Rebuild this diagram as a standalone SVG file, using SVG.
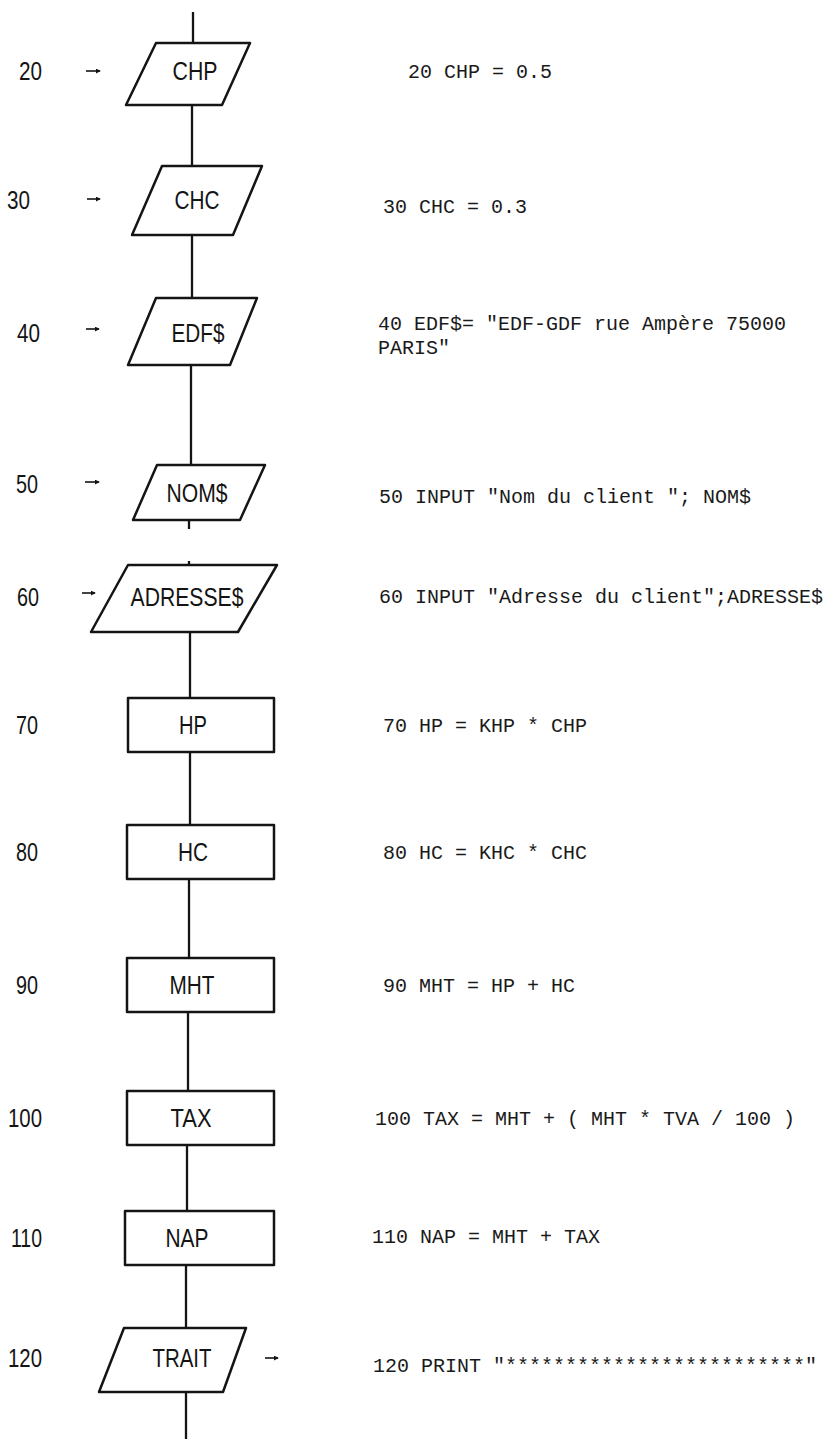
<svg xmlns="http://www.w3.org/2000/svg" width="829" height="1439" viewBox="0 0 829 1439">
<style>
.shape{fill:none;stroke:#141414;stroke-width:2.5;stroke-linejoin:round}
.conn{stroke:#141414;stroke-width:2.3;fill:none}
.lbl{font-family:"Liberation Sans",Arial,sans-serif;font-size:25px;fill:#141414;text-anchor:middle}
.num{font-family:"Liberation Sans",Arial,sans-serif;font-size:25px;fill:#141414}
.code{font-family:"Liberation Mono","Courier New",monospace;font-size:20px;fill:#1a1a1a}
.arr{stroke:#141414;stroke-width:1.6;fill:none}
</style>
<defs>
<marker id="ah" viewBox="0 0 6 6" refX="5" refY="3" markerWidth="5" markerHeight="5" orient="auto" markerUnits="userSpaceOnUse">
<path d="M0,0 L6,3 L0,6 z" fill="#141414"/>
</marker>
</defs>
<rect width="829" height="1439" fill="#ffffff"/>
<g id="connectors">
<line class="conn" x1="193" y1="12" x2="193" y2="43"/>
<line class="conn" x1="192" y1="105" x2="192" y2="166"/>
<line class="conn" x1="192" y1="235" x2="192" y2="298"/>
<line class="conn" x1="191" y1="365" x2="191" y2="465"/>
<line class="conn" x1="189" y1="520" x2="189" y2="529"/>
<line class="conn" x1="189" y1="561" x2="189" y2="565"/>
<line class="conn" x1="190" y1="632" x2="190" y2="698"/>
<line class="conn" x1="190" y1="752" x2="190" y2="825"/>
<line class="conn" x1="189" y1="879" x2="189" y2="958"/>
<line class="conn" x1="188" y1="1012" x2="188" y2="1091"/>
<line class="conn" x1="187" y1="1145" x2="187" y2="1211"/>
<line class="conn" x1="186" y1="1265" x2="186" y2="1328"/>
<line class="conn" x1="186" y1="1392" x2="186" y2="1439"/>
</g>
<g id="arrows">
<line class="arr" x1="86" y1="71" x2="100" y2="71" marker-end="url(#ah)"/>
<line class="arr" x1="87" y1="199" x2="100" y2="199" marker-end="url(#ah)"/>
<line class="arr" x1="86" y1="329" x2="99" y2="329" marker-end="url(#ah)"/>
<line class="arr" x1="85" y1="482" x2="99" y2="482" marker-end="url(#ah)"/>
<line class="arr" x1="82" y1="593" x2="95" y2="593" marker-end="url(#ah)"/>
<line class="arr" x1="265" y1="1358" x2="278" y2="1358" marker-end="url(#ah)"/>
</g>
<g id="n20">
<text class="num" x="19" y="80" textLength="23" lengthAdjust="spacingAndGlyphs">20</text>
<polygon class="shape" points="156,43 250,43 222,105 126,105"/>
<text class="lbl" x="195" y="80" textLength="45" lengthAdjust="spacingAndGlyphs">CHP</text>
<text class="code" x="408" y="78">20 CHP = 0.5</text>
</g>
<g id="n30">
<text class="num" x="7" y="209" textLength="23" lengthAdjust="spacingAndGlyphs">30</text>
<polygon class="shape" points="162,166 262,166 233,235 132,235"/>
<text class="lbl" x="197" y="209" textLength="45" lengthAdjust="spacingAndGlyphs">CHC</text>
<text class="code" x="383" y="213">30 CHC = 0.3</text>
</g>
<g id="n40">
<text class="num" x="17" y="342" textLength="23" lengthAdjust="spacingAndGlyphs">40</text>
<polygon class="shape" points="156,298 257,298 230,365 128,365"/>
<text class="lbl" x="198" y="342" textLength="53" lengthAdjust="spacingAndGlyphs">EDF$</text>
<text class="code" x="378" y="330">40 EDF$= "EDF-GDF rue Ampère 75000</text>
<text class="code" x="378" y="354">PARIS"</text>
</g>
<g id="n50">
<text class="num" x="16" y="493" textLength="22" lengthAdjust="spacingAndGlyphs">50</text>
<polygon class="shape" points="157,465 265,465 240,520 133,520"/>
<text class="lbl" x="197" y="502" textLength="61" lengthAdjust="spacingAndGlyphs">NOM$</text>
<text class="code" x="379" y="503">50 INPUT "Nom du client "; NOM$</text>
</g>
<g id="n60">
<text class="num" x="17" y="606" textLength="22" lengthAdjust="spacingAndGlyphs">60</text>
<polygon class="shape" points="128,565 277,565 238,632 91,632"/>
<text class="lbl" x="187" y="606" textLength="113" lengthAdjust="spacingAndGlyphs">ADRESSE$</text>
<text class="code" x="379" y="603">60 INPUT "Adresse du client";ADRESSE$</text>
</g>
<g id="n70">
<text class="num" x="16" y="734" textLength="22" lengthAdjust="spacingAndGlyphs">70</text>
<rect class="shape" x="128" y="698" width="146" height="54"/>
<text class="lbl" x="193" y="734" textLength="28" lengthAdjust="spacingAndGlyphs">HP</text>
<text class="code" x="383" y="732">70 HP = KHP * CHP</text>
</g>
<g id="n80">
<text class="num" x="16" y="861" textLength="22" lengthAdjust="spacingAndGlyphs">80</text>
<rect class="shape" x="127" y="825" width="147" height="54"/>
<text class="lbl" x="193" y="861" textLength="30" lengthAdjust="spacingAndGlyphs">HC</text>
<text class="code" x="383" y="859">80 HC = KHC * CHC</text>
</g>
<g id="n90">
<text class="num" x="16" y="994" textLength="22" lengthAdjust="spacingAndGlyphs">90</text>
<rect class="shape" x="127" y="958" width="147" height="54"/>
<text class="lbl" x="192" y="994" textLength="45" lengthAdjust="spacingAndGlyphs">MHT</text>
<text class="code" x="383" y="992">90 MHT = HP + HC</text>
</g>
<g id="n100">
<text class="num" x="8" y="1127" textLength="34" lengthAdjust="spacingAndGlyphs">100</text>
<rect class="shape" x="127" y="1091" width="147" height="54"/>
<text class="lbl" x="191" y="1127" textLength="41" lengthAdjust="spacingAndGlyphs">TAX</text>
<text class="code" x="375" y="1125">100 TAX = MHT + ( MHT * TVA / 100 )</text>
</g>
<g id="n110">
<text class="num" x="11" y="1247" textLength="31" lengthAdjust="spacingAndGlyphs">110</text>
<rect class="shape" x="125" y="1211" width="149" height="54"/>
<text class="lbl" x="187" y="1247" textLength="43" lengthAdjust="spacingAndGlyphs">NAP</text>
<text class="code" x="372" y="1243">110 NAP = MHT + TAX</text>
</g>
<g id="n120">
<text class="num" x="8" y="1367" textLength="34" lengthAdjust="spacingAndGlyphs">120</text>
<polygon class="shape" points="124,1328 246,1328 223,1392 99,1392"/>
<text class="lbl" x="182" y="1367" textLength="59" lengthAdjust="spacingAndGlyphs">TRAIT</text>
<text class="code" x="373" y="1372">120 PRINT "*************************"</text>
</g>
</svg>
